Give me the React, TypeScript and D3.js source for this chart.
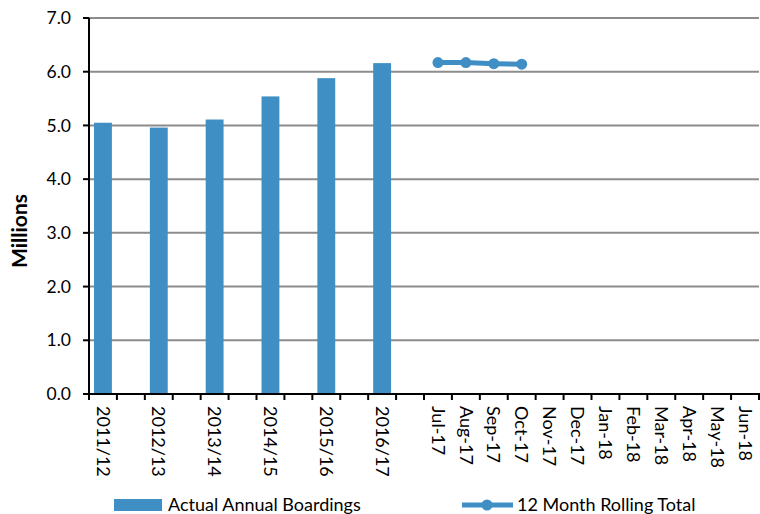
import React from "react";
import * as d3 from "d3";

// Annual boardings (millions) by financial year
const annualLabels = ["2011/12", "2012/13", "2013/14", "2014/15", "2015/16", "2016/17"];
const annualValues = [5.05, 4.96, 5.11, 5.54, 5.88, 6.16];

// Months of the current year and the 12-month rolling total (millions)
const monthLabels = ["Jul-17", "Aug-17", "Sep-17", "Oct-17", "Nov-17", "Dec-17", "Jan-18", "Feb-18", "Mar-18", "Apr-18", "May-18", "Jun-18"];
const rollingValues = [6.17, 6.17, 6.15, 6.14];

const yTicks = [0, 1, 2, 3, 4, 5, 6, 7];

const W = 760;
const H = 514;
const left = 89;
const right = 759;
const top = 18;
const bottom = 394;
const blue = "#3F8FC4";
const font = "Lato, 'Open Sans', sans-serif";

// Each financial year occupies a slot followed by an empty slot; months follow.
const slotLabels: string[] = [
  ...annualLabels.flatMap((l) => [l, ""]),
  ...monthLabels,
];

export default function App() {
  const slot = d3.scaleBand<number>().domain(d3.range(slotLabels.length)).range([left, right]).padding(0);
  const inner = 0.64;
  const y = d3.scaleLinear().domain([0, 7]).range([bottom, top]);
  const bw = slot.bandwidth();
  const center = (i: number) => (slot(i) as number) + bw / 2;
  const monthStart = annualLabels.length * 2;

  const line = d3
    .line<number>()
    .x((_, i) => center(monthStart + i))
    .y((d) => y(d));

  return (
    <svg width={W} height={H} style={{ position: "absolute", left: 0, top: 0, background: "#fff" }} fontFamily={font}>
      {/* gridlines */}
      {yTicks.filter((t) => t > 0).map((t) => (
        <line key={t} x1={left} x2={right} y1={y(t)} y2={y(t)} stroke="#8c8c8c" strokeWidth={2} />
      ))}
      {/* bars */}
      {annualValues.map((v, i) => (
        <rect
          key={i}
          x={(slot(i * 2) as number) + (bw * (1 - inner)) / 2}
          width={bw * inner}
          y={y(v)}
          height={y(0) - y(v)}
          fill={blue}
        />
      ))}
      {/* rolling total line */}
      <path d={line(rollingValues) || ""} fill="none" stroke={blue} strokeWidth={5} />
      {rollingValues.map((v, i) => (
        <circle key={i} cx={center(monthStart + i)} cy={y(v)} r={5.5} fill={blue} />
      ))}
      {/* y axis */}
      <line x1={left} x2={left} y1={top} y2={bottom} stroke="#000" strokeWidth={2} />
      {yTicks.map((t) => (
        <g key={t}>
          <line x1={left - 6} x2={left} y1={y(t)} y2={y(t)} stroke="#000" strokeWidth={2} />
          <text x={71} y={y(t)} dy="0.35em" textAnchor="end" fontSize={17.5} fill="#000">
            {t.toFixed(1)}
          </text>
        </g>
      ))}
      {/* x axis */}
      <line x1={left - 6} x2={right + 1} y1={bottom} y2={bottom} stroke="#000" strokeWidth={2} />
      {d3.range(slotLabels.length + 1).map((i) => {
        const x = i < slotLabels.length ? (slot(i) as number) : right;
        return <line key={i} x1={x} x2={x} y1={bottom} y2={bottom + 6} stroke="#000" strokeWidth={2} />;
      })}
      {slotLabels.map((l, i) =>
        l ? (
          <text
            key={i}
            transform={`translate(${center(i)},${bottom + 12}) rotate(90)`}
            dy="0.35em"
            fontSize={18}
            fill="#000"
          >
            {l}
          </text>
        ) : null
      )}
      {/* y axis title */}
      <text
        transform={`translate(20,${(top + bottom) / 2 + 25}) rotate(-90)`}
        textAnchor="middle"
        dy="0.35em"
        fontSize={21}
        fontWeight="bold"
        fill="#000"
      >
        Millions
      </text>
      {/* legend */}
      <rect x={114} y={499} width={48} height={12} fill={blue} />
      <text x={168} y={505} dy="0.35em" fontSize={18} fill="#000">
        Actual Annual Boardings
      </text>
      <line x1={462} x2={513} y1={505} y2={505} stroke={blue} strokeWidth={5} />
      <circle cx={487} cy={505} r={5.5} fill={blue} />
      <text x={517} y={505} dy="0.35em" fontSize={18} fill="#000">
        12 Month Rolling Total
      </text>
    </svg>
  );
}
